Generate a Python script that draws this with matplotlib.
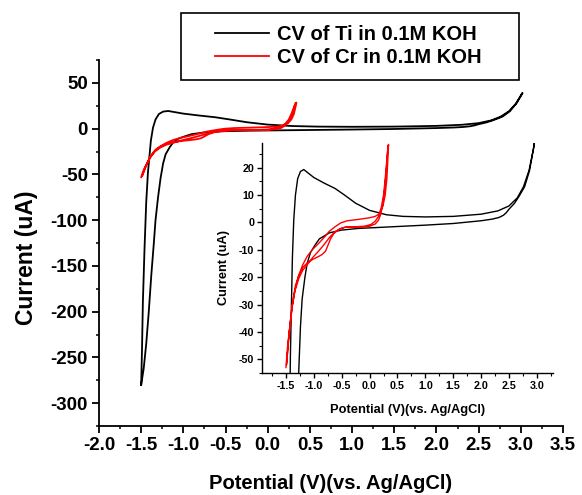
import matplotlib
matplotlib.use("Agg")
import matplotlib.pyplot as plt
from matplotlib.patches import Rectangle
from matplotlib.ticker import MultipleLocator, FormatStrFormatter

plt.rcParams['font.family'] = ['Liberation Sans', 'DejaVu Sans']
plt.rcParams['font.weight'] = 'bold'
plt.rcParams['axes.labelweight'] = 'bold'
plt.rcParams['axes.unicode_minus'] = False

# CV of Ti: forward (up) branch then return branch, potential in V, current in uA
ti_v = [-1.50, -1.49, -1.48, -1.46, -1.44, -1.42, -1.40, -1.385, -1.36, -1.33, -1.29, -1.24, -1.18,
        -1.10, -1.00, -0.82, -0.62, -0.45, -0.25, 0.00, 0.30, 0.60, 1.00, 1.50, 2.00, 2.30, 2.50,
        2.65, 2.76, 2.86, 2.94, 3.02,
        2.95, 2.87, 2.78, 2.68, 2.60, 2.50, 2.45, 2.40, 2.32, 2.20, 2.00, 1.50, 1.00, 0.40, -0.20, -0.50,
        -0.72, -0.90, -0.97, -1.06, -1.12, -1.16, -1.21, -1.24, -1.27, -1.30, -1.33, -1.35,
        -1.38, -1.41, -1.44, -1.47, -1.50]
ti_i = [-280, -240, -190, -130, -80, -48, -28, -13, 1, 10, 16, 18.6, 19.3,
        18.0, 16.4, 14.4, 12.4, 10.0, 7.0, 4.4, 2.8, 2.2, 2.0, 2.2, 3.0, 4.2, 6.0,
        9.0, 13, 19, 27, 39,
        28, 19, 13, 9.5, 7.0, 4.8, 3.5, 2.6, 1.8, 1.2, 0.6, -0.4, -1.0, -1.6, -2.2, -2.8,
        -3.8, -6, -8, -11, -15, -20, -28, -38, -54, -75, -100, -125,
        -160, -200, -235, -262, -280]

# CV of Cr: forward scan, reverse scan, second forward scan
cr_v = [-1.50, -1.47, -1.43, -1.38, -1.33, -1.27, -1.20, -1.12, -1.02, -0.92, -0.85, -0.79, -0.75,
        -0.70, -0.64, -0.55, -0.45, -0.30, -0.15, 0.00, 0.10, 0.16, 0.20, 0.24, 0.27, 0.30, 0.32, 0.34,
        0.33, 0.31, 0.28, 0.24, 0.18, 0.10, 0.00, -0.20, -0.40, -0.52, -0.62, -0.72, -0.82, -0.92,
        -1.02, -1.12, -1.20, -1.28, -1.34, -1.39, -1.44, -1.47, -1.49,
        -1.45, -1.40, -1.34, -1.27, -1.20, -1.12, -1.02, -0.92, -0.82, -0.72, -0.62, -0.52, -0.40,
        -0.25, -0.10, 0.02, 0.10, 0.16, 0.21, 0.25, 0.28, 0.31, 0.33]
cr_i = [-53, -45, -38, -29, -23, -19.5, -16.5, -14.8, -13.5, -12.5, -11.7, -10.5, -8.5,
        -6, -4, -2.6, -1.8, -1.7, -1.8, -1.4, -0.6, 0.8, 3.0, 7, 12, 19, 25, 28.5,
        24, 16, 10, 6, 3.2, 2.2, 1.7, 1.1, 0.6, -0.2, -1.6, -3.2, -5.6, -7.8,
        -9.8, -12.4, -15.5, -19.8, -25, -31, -40, -47, -52,
        -42, -32, -25, -20.5, -17.5, -15.5, -12.8, -10.6, -8.2, -5.5, -3.4, -2.2, -1.6,
        -1.6, -1.4, -0.8, 0.4, 2.2, 5.5, 10, 16, 23, 28]

labels = ['CV of Ti in 0.1M KOH', 'CV of Cr in 0.1M KOH']

W, H = 582, 495
fig = plt.figure(figsize=(W / 100, H / 100), dpi=100)

# main axes
ax = fig.add_axes([99 / W, 1 - 426 / H, (563 - 99) / W, (426 - 60) / H])
l1, = ax.plot(ti_v, ti_i, color='black', lw=1.3)
l2, = ax.plot(cr_v, cr_i, color='red', lw=1.3)
ax.set_xlim(-2.0, 3.5)
ax.set_ylim(-325, 75)
ax.xaxis.set_major_locator(MultipleLocator(0.5))
ax.xaxis.set_minor_locator(MultipleLocator(0.25))
ax.yaxis.set_major_locator(MultipleLocator(50))
ax.yaxis.set_minor_locator(MultipleLocator(25))
ax.xaxis.set_major_formatter(FormatStrFormatter('%.1f'))
for s in ['top', 'right']:
    ax.spines[s].set_visible(False)
for s in ['left', 'bottom']:
    ax.spines[s].set_linewidth(1.3)
ax.tick_params(which='major', direction='out', length=5, width=1.3, labelsize=13.5, pad=3)
ax.tick_params(which='minor', direction='out', length=2.5, width=1.1)
ax.set_xlabel('Potential (V)(vs. Ag/AgCl)', fontsize=14.5)
ax.set_ylabel('Current (uA)', fontsize=16.5)
ax.xaxis.set_label_coords(0.5, -0.13)
ax.yaxis.set_label_coords(-0.132, 0.46)

# inset axes
ins = fig.add_axes([262 / W, 1 - 373 / H, (553 - 262) / W, (373 - 143) / H])
ins.plot(ti_v, ti_i, color='black', lw=1.0)
ins.plot(cr_v, cr_i, color='red', lw=1.0)
ins.set_xlim(-1.93, 3.29)
ins.set_ylim(-55, 29)
ins.xaxis.set_major_locator(MultipleLocator(0.5))
ins.xaxis.set_minor_locator(MultipleLocator(0.25))
ins.yaxis.set_major_locator(MultipleLocator(10))
ins.yaxis.set_minor_locator(MultipleLocator(5))
ins.xaxis.set_major_formatter(FormatStrFormatter('%.1f'))
for s in ['top', 'right']:
    ins.spines[s].set_visible(False)
for s in ['left', 'bottom']:
    ins.spines[s].set_linewidth(1.0)
ins.tick_params(which='major', direction='out', length=3.5, width=1.0, labelsize=7.7, pad=2)
ins.tick_params(which='minor', direction='out', length=2, width=0.8)
ins.set_xlabel('Potential (V)(vs. Ag/AgCl)', fontsize=9.3)
ins.set_ylabel('Current (uA)', fontsize=9.2)
ins.xaxis.set_label_coords(0.5, -0.135)
ins.yaxis.set_label_coords(-0.11, 0.46)

# legend with square box like the original
fig.add_artist(Rectangle((181 / W, 1 - 80 / H), (519 - 181) / W, 67 / H,
                         transform=fig.transFigure, fill=False, ec='black', lw=1.2))
fig.legend([l1, l2], labels, loc='center left', bbox_to_anchor=(215 / W, 1 - 46 / H),
           frameon=False, borderpad=0, borderaxespad=0, handlelength=2.7,
           handletextpad=0.36, labelspacing=0.2, fontsize=14.5)

fig.savefig('out.png', dpi=100)
